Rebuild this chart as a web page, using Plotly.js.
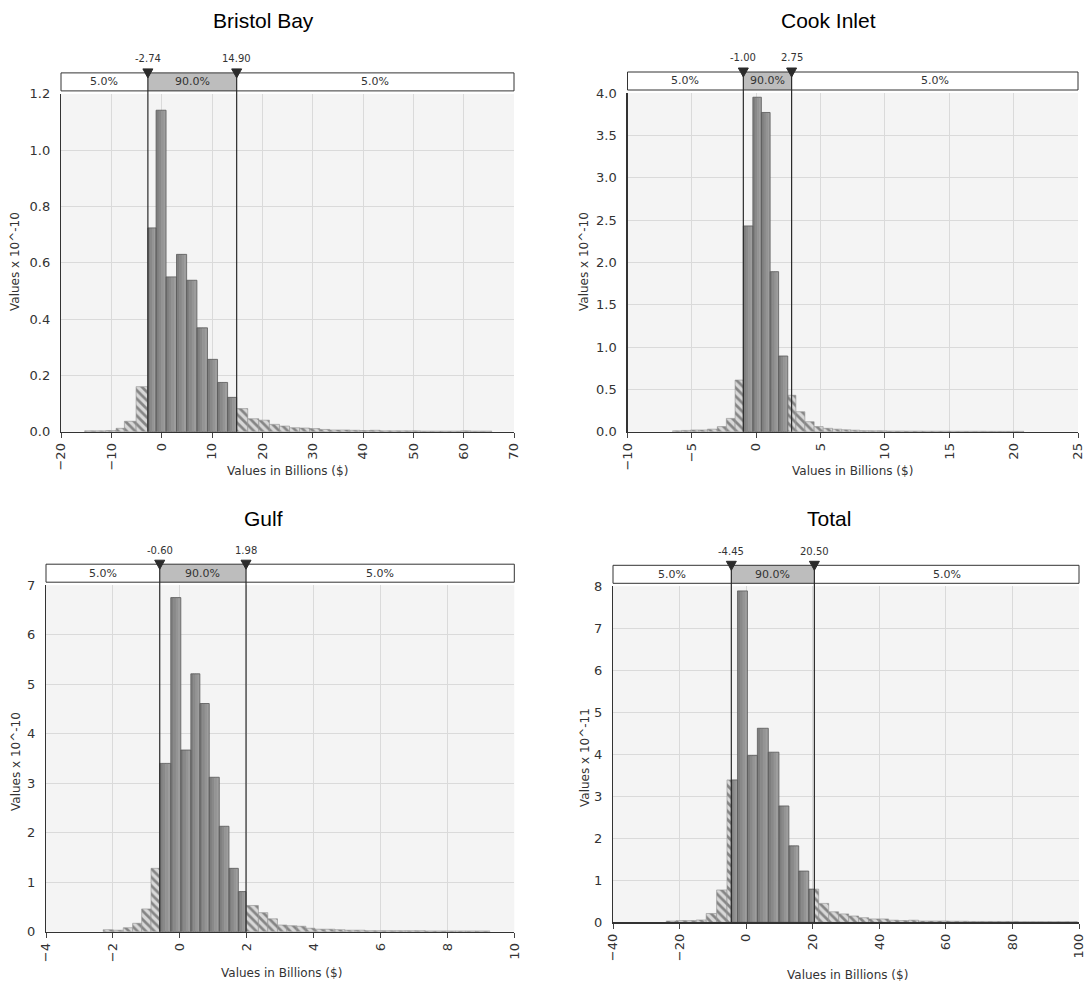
<!DOCTYPE html>
<html>
<head>
<meta charset="utf-8">
<script src="https://cdn.plot.ly/plotly-3.0.1.min.js"></script>
<style>
html,body{margin:0;padding:0;background:#ffffff;}
#chart{width:1086px;height:983px;}
</style>
</head>
<body>
<div id="chart"></div>
<script>
// ---------------- DATA ----------------
const panelTitles = ['Bristol Bay', 'Cook Inlet', 'Gulf', 'Total'];
const yAxisTitles = ['Values x 10^-10', 'Values x 10^-10', 'Values x 10^-10', 'Values x 10^-11'];
const xAxisTitle = 'Values in Billions ($)';
const pctLabels = ['5.0%', '90.0%', '5.0%'];

// Bristol Bay
const bbDelims = [-2.74, 14.90];
const bbLeftEdges = [-15.3, -13.2, -11.1, -9.05, -7.4, -5.08, -2.74];
const bbLeftVals = [0.003, 0.003, 0.004, 0.012, 0.037, 0.16];
const bbMidEdges = [-2.74, -1.11, 0.87, 2.95, 4.96, 7.0, 9.1, 11.1, 13.1, 14.9];
const bbMidVals = [0.724, 1.142, 0.55, 0.63, 0.538, 0.369, 0.257, 0.175, 0.122];
const bbRightEdges = [14.9, 17.1, 19.3, 21.4, 23.4, 25.4, 27.4, 29.4, 31.4, 33.4, 35.4, 37.4, 39.4, 41.4, 43.4, 45.4, 47.4, 49.4, 51.4, 53.4, 55.4, 57.4, 59.4, 61.4, 63.4, 65.6];
const bbRightVals = [0.082, 0.046, 0.041, 0.026, 0.02, 0.014, 0.013, 0.011, 0.008, 0.006, 0.006, 0.005, 0.004, 0.005, 0.003, 0.003, 0.003, 0.003, 0.002, 0.002, 0.002, 0.002, 0.003, 0.002, 0.002];
const bbXTicks = [-20, 70, 10];
const bbYTicks = [0, 1.2, 0.2];

// Cook Inlet
const ciDelims = [-1.00, 2.75];
const ciLeftEdges = [-6.5, -5.8, -5.1, -4.45, -3.79, -3.02, -2.32, -1.64, -1.0];
const ciLeftVals = [0.01, 0.015, 0.02, 0.02, 0.03, 0.06, 0.157, 0.61];
const ciMidEdges = [-1.0, -0.26, 0.40, 1.08, 1.74, 2.45];
const ciMidVals = [2.43, 3.95, 3.77, 1.89, 0.894];
const ciRightEdges = [2.45, 3.08, 3.78, 4.50, 5.20, 5.93, 6.65, 7.35, 8.05, 8.75, 9.45, 10.15, 10.85, 11.55, 12.25, 12.95, 13.65, 14.35, 15.05, 15.75, 16.45, 17.15, 17.85, 18.55, 19.25, 19.95, 20.8];
const ciRightVals = [0.43, 0.236, 0.118, 0.06, 0.04, 0.03, 0.022, 0.018, 0.012, 0.01, 0.01, 0.008, 0.008, 0.007, 0.007, 0.006, 0.006, 0.006, 0.005, 0.005, 0.005, 0.005, 0.004, 0.004, 0.004, 0.004];
const ciXTicks = [-10, 25, 5];
const ciYTicks = [0, 4.0, 0.5];

// Gulf
const gDelims = [-0.60, 1.98];
const gLeftEdges = [-2.29, -1.99, -1.69, -1.41, -1.14, -0.86, -0.6];
const gLeftVals = [0.04, 0.03, 0.08, 0.17, 0.46, 1.28];
const gMidEdges = [-0.6, -0.27, 0.03, 0.33, 0.60, 0.88, 1.18, 1.47, 1.75, 1.98];
const gMidVals = [3.40, 6.75, 3.67, 5.21, 4.61, 3.12, 2.13, 1.28, 0.81];
const gRightEdges = [1.98, 2.35, 2.63, 2.92, 3.2, 3.5, 3.77, 4.04, 4.34, 4.64, 4.94, 5.24, 5.54, 5.84, 6.14, 6.44, 6.74, 7.04, 7.34, 7.64, 7.94, 8.24, 8.54, 8.84, 9.27];
const gRightVals = [0.53, 0.385, 0.26, 0.135, 0.12, 0.11, 0.07, 0.05, 0.05, 0.04, 0.03, 0.03, 0.02, 0.02, 0.02, 0.02, 0.02, 0.02, 0.015, 0.015, 0.015, 0.015, 0.015, 0.015];
const gXTicks = [-4, 10, 2];
const gYTicks = [0, 7, 1];

// Total
const tDelims = [-4.45, 20.50];
const tLeftEdges = [-24, -21, -18, -15, -12, -8.87, -5.76, -4.45];
const tLeftVals = [0.03, 0.04, 0.04, 0.055, 0.21, 0.77, 3.39];
const tMidEdges = [-4.45, -2.6, 0.39, 3.37, 6.66, 9.85, 12.84, 15.8, 18.8, 20.5];
const tMidVals = [3.39, 7.89, 3.97, 4.62, 4.05, 2.77, 1.82, 1.22, 0.79];
const tRightEdges = [20.5, 21.8, 24.8, 27.8, 30.8, 33.8, 36.8, 39.8, 42.8, 45.8, 48.8, 51.8, 54.8, 57.8, 60.8, 63.8, 66.8, 69.8, 72.8, 75.8, 78.8, 81.8, 84.8, 87.8, 90.8, 93.8, 96.8, 99.5];
const tRightVals = [0.79, 0.45, 0.25, 0.2, 0.15, 0.11, 0.08, 0.08, 0.05, 0.04, 0.05, 0.03, 0.03, 0.03, 0.025, 0.025, 0.02, 0.02, 0.02, 0.02, 0.02, 0.015, 0.015, 0.015, 0.015, 0.015, 0.015];
const tXTicks = [-40, 100, 20];
const tYTicks = [0, 8, 1];

// ---------------- LAYOUT CONFIG (pixels) ----------------
const W = 1086, Hpx = 983;
const panels = [
  {t: panelTitles[0], yt: yAxisTitles[0], L: [bbLeftEdges, bbLeftVals], M: [bbMidEdges, bbMidVals], R: [bbRightEdges, bbRightVals], D: bbDelims, xt: bbXTicks, ytk: bbYTicks, yf: '.1f',
   px: [61, 514], py: [93.9, 431.7], titlePos: [263, 20], yTitlePos: [15, 262], xTitlePos: [287, 471]},
  {t: panelTitles[1], yt: yAxisTitles[1], L: [ciLeftEdges, ciLeftVals], M: [ciMidEdges, ciMidVals], R: [ciRightEdges, ciRightVals], D: ciDelims, xt: ciXTicks, ytk: ciYTicks, yf: '.1f',
   px: [627.5, 1078], py: [93.0, 431.7], titlePos: [828, 20], yTitlePos: [584, 262], xTitlePos: [852, 471]},
  {t: panelTitles[2], yt: yAxisTitles[2], L: [gLeftEdges, gLeftVals], M: [gMidEdges, gMidVals], R: [gRightEdges, gRightVals], D: gDelims, xt: gXTicks, ytk: gYTicks, yf: 'd',
   px: [46, 514.3], py: [585.2, 931.7], titlePos: [263, 518], yTitlePos: [16, 762], xTitlePos: [281, 973]},
  {t: panelTitles[3], yt: yAxisTitles[3], L: [tLeftEdges, tLeftVals], M: [tMidEdges, tMidVals], R: [tRightEdges, tRightVals], D: tDelims, xt: tXTicks, ytk: tYTicks, yf: 'd',
   px: [613, 1079], py: [586.3, 922.3], titlePos: [829, 518], yTitlePos: [585, 758], xTitlePos: [847, 975]}
];

const FONT = 'DejaVu Sans';
const stripColors = ['#7e7e7e', '#898989', '#949494', '#9d9d9d'];

function bars(edges, vals) {
  const x = [], w = [], y = [];
  for (let i = 0; i < vals.length; i++) {
    x.push(edges[i]);
    w.push(edges[i + 1] - edges[i]);
    y.push(vals[i]);
  }
  return {x, w, y};
}

const data = [];
const layout = {
  width: W, height: Hpx,
  margin: {l: 0, r: 0, t: 0, b: 0},
  paper_bgcolor: '#ffffff',
  plot_bgcolor: '#f4f4f4',
  barmode: 'overlay',
  showlegend: false,
  font: {family: FONT, color: '#333333', size: 12},
  shapes: [],
  annotations: []
};

panels.forEach((p, i) => {
  const k = i === 0 ? '' : String(i + 1);
  const xa = 'x' + k, ya = 'y' + k;
  const plotH = p.py[1] - p.py[0];
  const plotW = p.px[1] - p.px[0];
  const gap = 3 / plotH, boxH = 18 / plotH;
  const boxBot = 1 + gap, boxTop = 1 + gap + boxH;
  const xMin = p.xt[0], xMax = p.xt[1];
  const yMax = p.ytk[1];
  const unitsPerPx = (xMax - xMin) / plotW;

  layout['xaxis' + k] = {
    domain: [p.px[0] / W, p.px[1] / W], anchor: ya,
    range: [xMin, xMax + 1e-6 * (xMax - xMin)], tickmode: 'linear', tick0: xMin, dtick: p.xt[2],
    tickangle: -90, ticks: 'outside', ticklen: 5, tickcolor: '#444', tickwidth: 1,
    ticklabeloverflow: 'allow',
    showline: true, linecolor: '#333', linewidth: 1.2,
    showgrid: true, gridcolor: '#dadada', gridwidth: 1, zeroline: false,
    tickfont: {family: FONT, size: 13, color: '#333'}, fixedrange: true
  };
  layout['yaxis' + k] = {
    domain: [1 - p.py[1] / Hpx, 1 - p.py[0] / Hpx], anchor: xa,
    range: [0, yMax], tickmode: 'linear', tick0: 0, dtick: p.ytk[2], tickformat: p.yf,
    ticks: '', ticklabelstandoff: 7,
    showline: true, linecolor: '#333', linewidth: 1.2,
    showgrid: true, gridcolor: '#dadada', gridwidth: 1, zeroline: false,
    tickfont: {family: FONT, size: 13, color: '#333'}, fixedrange: true
  };

  // Hatched tails
  [p.L, p.R].forEach(side => {
    const b = bars(side[0], side[1]);
    data.push({
      type: 'bar', x: b.x, y: b.y, width: b.w, offset: 0, xaxis: xa, yaxis: ya,
      marker: {color: '#d4d4d4', line: {color: '#8e8e8e', width: 0.6},
        pattern: {shape: '\\', fgcolor: '#858585', bgcolor: '#d8d8d8', size: 6, solidity: 0.45}},
      hoverinfo: 'skip'
    });
  });

  // Solid middle bars (gradient strips + outline)
  const m = bars(p.M[0], p.M[1]);
  const n = stripColors.length;
  stripColors.forEach((c, s) => {
    data.push({
      type: 'bar', x: m.x, y: m.y, xaxis: xa, yaxis: ya,
      width: m.w.map(w => s === n - 1 ? w / n : w / n + 0.6 * unitsPerPx),
      offset: m.w.map(w => s * w / n),
      marker: {color: c, line: {width: 0}}, hoverinfo: 'skip'
    });
  });
  data.push({
    type: 'bar', x: m.x, y: m.y, width: m.w, offset: 0, xaxis: xa, yaxis: ya,
    marker: {color: 'rgba(0,0,0,0)', line: {color: '#5a5a5a', width: 0.8}}, hoverinfo: 'skip'
  });

  // Top percentile box
  layout.shapes.push({type: 'rect', xref: xa, yref: ya + ' domain', x0: p.D[0], x1: p.D[1], y0: boxBot, y1: boxTop,
    fillcolor: '#bdbdbd', line: {width: 0}, layer: 'above'});
  layout.shapes.push({type: 'rect', xref: xa + ' domain', yref: ya + ' domain', x0: 0, x1: 1, y0: boxBot, y1: boxTop,
    fillcolor: 'rgba(0,0,0,0)', line: {color: '#333', width: 1}, layer: 'above'});
  p.D.forEach(d => {
    layout.shapes.push({type: 'line', xref: xa, yref: ya + ' domain', x0: d, x1: d, y0: 0, y1: boxTop,
      line: {color: '#2b2b2b', width: 1.2}, layer: 'above'});
    const hw = 5 * unitsPerPx;
    const yT = boxTop + 4 / plotH, yB = boxTop - 5 / plotH;
    layout.shapes.push({type: 'path', xref: xa, yref: ya + ' domain',
      path: 'M ' + (d - hw) + ' ' + yT + ' L ' + (d + hw) + ' ' + yT + ' L ' + d + ' ' + yB + ' Z',
      fillcolor: '#2b2b2b', line: {color: '#2b2b2b', width: 1}, layer: 'above'});
    layout.annotations.push({xref: xa, yref: ya + ' domain', x: d, y: boxTop + 14 / plotH,
      text: d.toFixed(2), showarrow: false, xanchor: 'center', yanchor: 'middle',
      font: {family: FONT, size: 10, color: '#333'}});
  });
  const segCenters = [(xMin + p.D[0]) / 2, (p.D[0] + p.D[1]) / 2, (p.D[1] + xMax) / 2];
  segCenters.forEach((c, s) => {
    layout.annotations.push({xref: xa, yref: ya + ' domain', x: c, y: (boxBot + boxTop) / 2,
      text: pctLabels[s], showarrow: false, xanchor: 'center', yanchor: 'middle',
      font: {family: FONT, size: 11, color: '#333'}});
  });

  // Titles
  layout.annotations.push({xref: 'paper', yref: 'paper', x: p.titlePos[0] / W, y: 1 - p.titlePos[1] / Hpx,
    text: p.t, showarrow: false, xanchor: 'center', yanchor: 'middle',
    font: {family: 'Liberation Sans', size: 21, color: '#000'}});
  layout.annotations.push({xref: 'paper', yref: 'paper', x: p.yTitlePos[0] / W, y: 1 - p.yTitlePos[1] / Hpx,
    text: p.yt, textangle: -90, showarrow: false, xanchor: 'center', yanchor: 'middle',
    font: {family: FONT, size: 12, color: '#333'}});
  layout.annotations.push({xref: 'paper', yref: 'paper', x: p.xTitlePos[0] / W, y: 1 - p.xTitlePos[1] / Hpx,
    text: xAxisTitle, showarrow: false, xanchor: 'center', yanchor: 'middle',
    font: {family: FONT, size: 12, color: '#333'}});
});

Plotly.newPlot('chart', data, layout, {displayModeBar: false, staticPlot: true});
</script>
</body>
</html>
